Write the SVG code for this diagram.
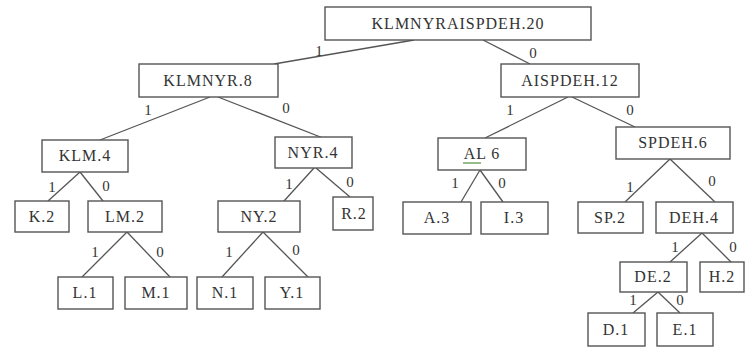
<svg xmlns="http://www.w3.org/2000/svg" width="746" height="347" viewBox="0 0 746 347">
<style>
.box{fill:#fff;stroke:#555;stroke-width:1.4}
.t{font-family:"Liberation Serif","Times New Roman",serif;font-size:16px;fill:#333;text-anchor:middle;letter-spacing:1px}
.lb{font-family:"Liberation Serif","Times New Roman",serif;font-size:15px;fill:#333;text-anchor:middle}
.e{stroke:#555;stroke-width:1.3;fill:none}
</style>
<rect width="746" height="347" fill="#fff"/>
<g id="connectors">
<line class="e" x1="414" y1="40" x2="274" y2="64"/>
<line class="e" x1="483" y1="40" x2="530" y2="64"/>
<line class="e" x1="210" y1="97" x2="100" y2="140"/>
<line class="e" x1="218" y1="97" x2="323" y2="138"/>
<line class="e" x1="568" y1="97" x2="485" y2="138"/>
<line class="e" x1="572" y1="97" x2="635" y2="127"/>
<line class="e" x1="80" y1="172" x2="48" y2="201"/>
<line class="e" x1="80" y1="172" x2="103" y2="201"/>
<line class="e" x1="314" y1="168" x2="284" y2="201"/>
<line class="e" x1="316" y1="168" x2="350" y2="197"/>
<line class="e" x1="480" y1="170" x2="461" y2="202"/>
<line class="e" x1="480" y1="170" x2="503" y2="202"/>
<line class="e" x1="670" y1="159" x2="625" y2="202"/>
<line class="e" x1="670" y1="159" x2="715" y2="202"/>
<line class="e" x1="702" y1="233" x2="670" y2="262"/>
<line class="e" x1="702" y1="233" x2="731" y2="262"/>
<line class="e" x1="658" y1="292" x2="633" y2="313"/>
<line class="e" x1="658" y1="292" x2="680" y2="313"/>
<line class="e" x1="127" y1="232" x2="82" y2="277"/>
<line class="e" x1="127" y1="232" x2="170" y2="277"/>
<line class="e" x1="263" y1="232" x2="222" y2="277"/>
<line class="e" x1="263" y1="232" x2="308" y2="277"/>
<text class="lb" x="319" y="56">1</text>
<text class="lb" x="533" y="58">0</text>
<text class="lb" x="148" y="115">1</text>
<text class="lb" x="286" y="113">0</text>
<text class="lb" x="510" y="115">1</text>
<text class="lb" x="630" y="115">0</text>
<text class="lb" x="52" y="192">1</text>
<text class="lb" x="106" y="191">0</text>
<text class="lb" x="289" y="189">1</text>
<text class="lb" x="350" y="187">0</text>
<text class="lb" x="455" y="188">1</text>
<text class="lb" x="502" y="188">0</text>
<text class="lb" x="630" y="192">1</text>
<text class="lb" x="712" y="186">0</text>
<text class="lb" x="675" y="252">1</text>
<text class="lb" x="733" y="252">0</text>
<text class="lb" x="633" y="305">1</text>
<text class="lb" x="680" y="305">0</text>
<text class="lb" x="95" y="257">1</text>
<text class="lb" x="160" y="257">0</text>
<text class="lb" x="229" y="257">1</text>
<text class="lb" x="296" y="255">0</text>
</g>
<g id="n-root"><rect class="box" x="325" y="7" width="266" height="33"/><text class="t" x="458" y="29">KLMNYRAISPDEH.20</text></g>
<g id="n-klmnyr"><rect class="box" x="139" y="64" width="139" height="33"/><text class="t" x="208" y="86">KLMNYR.8</text></g>
<g id="n-aispdeh"><rect class="box" x="501" y="64" width="138" height="33"/><text class="t" x="570" y="86">AISPDEH.12</text></g>
<g id="n-klm"><rect class="box" x="42" y="140" width="86" height="32"/><text class="t" x="85" y="161">KLM.4</text></g>
<g id="n-nyr"><rect class="box" x="275" y="137" width="77" height="31"/><text class="t" x="313" y="158">NYR.4</text></g>
<g id="n-al"><rect class="box" x="438" y="138" width="88" height="32"/><text class="t" x="482" y="159">AL 6</text><line x1="463" y1="163" x2="481" y2="163" stroke="#5a9a4a" stroke-width="1.3"/></g>
<g id="n-spdeh"><rect class="box" x="616" y="127" width="114" height="32"/><text class="t" x="673" y="148">SPDEH.6</text></g>
<g id="n-k"><rect class="box" x="15" y="201" width="54" height="31"/><text class="t" x="42" y="222">K.2</text></g>
<g id="n-lm"><rect class="box" x="88" y="201" width="74" height="31"/><text class="t" x="125" y="222">LM.2</text></g>
<g id="n-ny"><rect class="box" x="218" y="201" width="82" height="31"/><text class="t" x="259" y="222">NY.2</text></g>
<g id="n-r"><rect class="box" x="333" y="197" width="40" height="33"/><text class="t" x="354" y="219">R.2</text></g>
<g id="n-a"><rect class="box" x="403" y="202" width="68" height="32"/><text class="t" x="437" y="223">A.3</text></g>
<g id="n-i"><rect class="box" x="481" y="202" width="67" height="32"/><text class="t" x="514" y="223">I.3</text></g>
<g id="n-sp"><rect class="box" x="578" y="202" width="65" height="31"/><text class="t" x="610" y="223">SP.2</text></g>
<g id="n-deh"><rect class="box" x="656" y="202" width="77" height="31"/><text class="t" x="694" y="223">DEH.4</text></g>
<g id="n-l"><rect class="box" x="58" y="277" width="55" height="32"/><text class="t" x="85" y="298">L.1</text></g>
<g id="n-m"><rect class="box" x="125" y="277" width="62" height="32"/><text class="t" x="156" y="298">M.1</text></g>
<g id="n-n"><rect class="box" x="197" y="277" width="56" height="32"/><text class="t" x="225" y="298">N.1</text></g>
<g id="n-y"><rect class="box" x="265" y="277" width="55" height="32"/><text class="t" x="292" y="298">Y.1</text></g>
<g id="n-de"><rect class="box" x="620" y="262" width="67" height="30"/><text class="t" x="653" y="282">DE.2</text></g>
<g id="n-h"><rect class="box" x="700" y="262" width="44" height="30"/><text class="t" x="722" y="282">H.2</text></g>
<g id="n-d"><rect class="box" x="588" y="313" width="57" height="33"/><text class="t" x="616" y="335">D.1</text></g>
<g id="n-e"><rect class="box" x="657" y="313" width="56" height="33"/><text class="t" x="685" y="335">E.1</text></g>
</svg>
